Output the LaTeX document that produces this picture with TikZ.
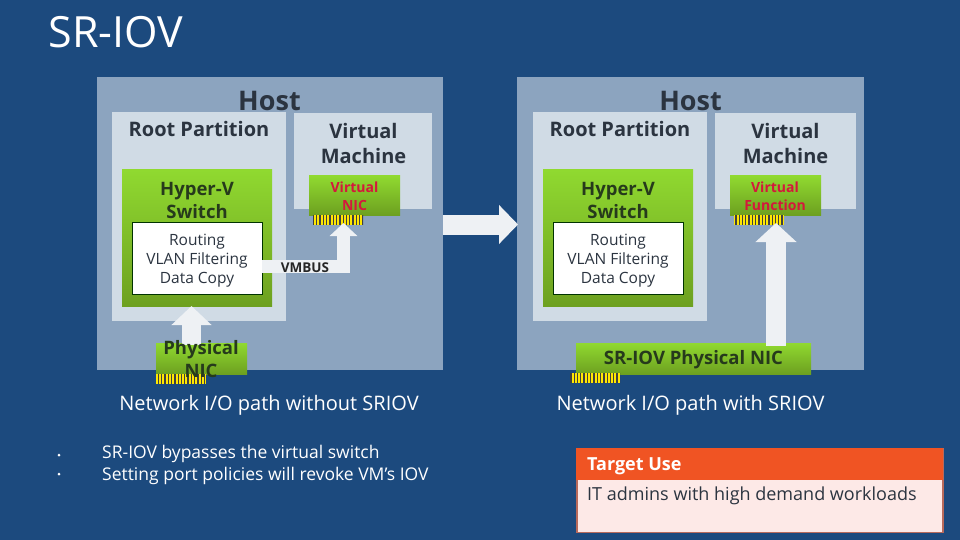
\documentclass[tikz,border=0pt]{standalone}
\usepackage{fontspec}
\setmainfont{Open Sans}
\usetikzlibrary{arrows.meta,patterns.meta}
\definecolor{slidebg}{HTML}{1C4A7E}
\definecolor{hostblue}{HTML}{8CA4BF}
\definecolor{partblue}{HTML}{D0DBE5}
\definecolor{greentop}{HTML}{90D930}
\definecolor{greenlow}{HTML}{6DA020}
\definecolor{inktext}{HTML}{2B3440}
\definecolor{greentext}{HTML}{263A1C}
\definecolor{redtext}{HTML}{D4183C}
\definecolor{pale}{HTML}{EEF1F4}
\definecolor{orangehead}{HTML}{F05423}
\definecolor{targetfill}{HTML}{FDE9E7}
\definecolor{targetline}{HTML}{B86A5C}
\tikzstyle{plainbox}=[inner sep=0pt,outer sep=0pt,anchor=north west]
\tikzstyle{hostbox}=[plainbox,fill=hostblue,minimum height=293pt]
\tikzstyle{partbox}=[plainbox,fill=partblue]
\tikzstyle{greenbox}=[plainbox,top color=greentop,bottom color=greenlow]
\tikzstyle{whitebox}=[plainbox,fill=white,draw=black!80!green,line width=0.7pt,minimum width=130pt,minimum height=72pt]
\tikzstyle{portbox}=[plainbox,preaction={fill=yellow!90!orange},pattern={Lines[angle=90,distance=3.3pt,line width=1.3pt]},pattern color=black!75,minimum width=50pt,minimum height=9.5pt]
\tikzstyle{hosttext}=[inner sep=0pt,text=inktext,font=\fontsize{27}{32}\selectfont\bfseries]
\tikzstyle{boxtext}=[inner sep=0pt,align=center,text=inktext,font=\fontsize{20}{25}\selectfont\bfseries]
\tikzstyle{switchtext}=[inner sep=0pt,align=center,text=greentext,font=\fontsize{18.5}{23}\selectfont\bfseries]
\tikzstyle{nictext}=[inner sep=0pt,align=center,text=redtext,font=\fontsize{14}{18}\selectfont\bfseries]
\tikzstyle{plaintext}=[inner sep=0pt,align=center,text=inktext,font=\fontsize{15.5}{19}\selectfont]
\tikzstyle{whitetext}=[inner sep=0pt,text=white,font=\fontsize{20}{25}\selectfont]
\tikzstyle{flowarrow}=[draw=pale,line width=13pt,-{Triangle[width=27pt,length=13pt,fill=pale]}]
\begin{document}
\begin{tikzpicture}[x=1pt,y=-1pt]
    \useasboundingbox (0,0) rectangle (960,540);
    \fill[slidebg] (0,0) rectangle (960,540);
    \node[inner sep=0pt,text=white,font=\fontsize{43}{50}\selectfont] (title) at (116,32) {SR-IOV};
    % First the two hosts, the boxes are the same on both sides
    \node[hostbox,minimum width=346pt] (hostA) at (97,77) {};
    \node[hostbox,minimum width=347pt] (hostB) at (517,77) {};
    \foreach \dx/\name/\vmw in {0/A/138,421/B/141}
    {
        \node[partbox,minimum width=174pt,minimum height=209pt] (root\name) at (112+\dx,112) {};
        \node[partbox,minimum width=\vmw pt,minimum height=96pt] (vm\name) at (294+\dx,113) {};
        \node[greenbox,minimum width=150pt,minimum height=136pt] (switch\name) at (122+\dx,170) {};
        \node[whitebox] (routing\name) at (132+\dx,222) {};
        \node[greenbox,minimum width=91pt,minimum height=39pt] (vnic\name) at (309+\dx,176) {};
        \node[portbox] (vport\name) at (313+\dx,215) {};
        \node[hosttext] (hostlabel\name) at (269.5+\dx,101) {Host};
        \node[boxtext] (rootlabel\name) at (199+\dx,129) {Root Partition};
        \node[switchtext] (switchlabel\name) at (197+\dx,200) {Hyper-V\\Switch};
        \node[plaintext] (routinglabel\name) at (197+\dx,261) {Routing\\VLAN Filtering\\Data Copy};
    }
    \node[boxtext] (vmlabelA) at (363.5,144) {Virtual\\Machine};
    \node[boxtext] (vmlabelB) at (785.5,144) {Virtual\\Machine};
    % NICs along the bottom of each host
    \node[greenbox,minimum width=91pt,minimum height=31pt] (pnicA) at (156,343) {};
    \node[portbox] (pportA) at (156,374) {};
    \node[greenbox,minimum width=235pt,minimum height=31pt] (pnicB) at (576,343) {};
    \node[portbox] (pportB) at (570,373) {};
    % Arrows
    \coordinate (vmbusfrom) at (262,266.5);
    \coordinate (vmbusto) at (343.5,223);
    \coordinate (pnicAup) at (191.5,345);
    \coordinate (switchAlow) at (191.5,306);
    \coordinate (pnicBup) at (776,346);
    \coordinate (vportBlow) at (776,223);
    \coordinate (hostAright) at (443,224.5);
    \coordinate (hostBleft) at (518,224.5);
    \draw[flowarrow] (vmbusfrom) -| (vmbusto);
    \draw[flowarrow,-{Triangle[width=39pt,length=19pt,fill=pale]},line width=19pt] (pnicAup) -- (switchAlow);
    \draw[flowarrow,-{Triangle[width=40pt,length=19pt,fill=pale]},line width=20pt] (pnicBup) -- (vportBlow);
    \draw[flowarrow,-{Triangle[width=38pt,length=19pt,fill=pale]},line width=20pt] (hostAright) -- (hostBleft);
    % Labels on top of the arrows
    \node[inner sep=0pt,text=black!85,font=\fontsize{13.5}{15}\selectfont\bfseries] (vmbuslabel) at (305,268) {VMBUS};
    \node[nictext] (vniclabel) at (354.5,196) {Virtual\\NIC};
    \node[nictext] (vflabel) at (775,196) {Virtual\\Function};
    \node[switchtext] (pniclabel) at (201,359) {Physical\\NIC};
    \node[switchtext] (srnic) at (693.5,360) {SR-IOV Physical NIC};
    \node[whitetext] (captionA) at (269,405) {Network I/O path without SRIOV};
    \node[whitetext] (captionB) at (690.5,405) {Network I/O path with SRIOV};
    % Bullets and the target box
    \foreach \y/\name in {455/dotA,474/dotB}
        \node[circle,fill=white,inner sep=0pt,minimum size=3pt] (\name) at (59,\y) {};
    \node[inner sep=0pt,text=white,font=\fontsize{17.5}{22}\selectfont,anchor=north west,align=left] (bullets) at (102,445) {SR-IOV bypasses the virtual switch\\Setting port policies will revoke VM’s IOV};
    \node[plainbox,fill=targetfill,draw=targetline,line width=1.5pt,minimum width=366pt,minimum height=84pt] (target) at (577,448.5) {};
    \node[plainbox,fill=orangehead,minimum width=367pt,minimum height=32pt] (targethead) at (576,448) {};
    \node[inner sep=0pt,anchor=west,text=white,font=\fontsize{18}{22}\selectfont\bfseries] (targetlabel) at (587,466.5) {Target Use};
    \node[inner sep=0pt,anchor=west,text=inktext,font=\fontsize{18}{22}\selectfont] (targettext) at (587,496) {IT admins with high demand workloads};
\end{tikzpicture}
\end{document}
